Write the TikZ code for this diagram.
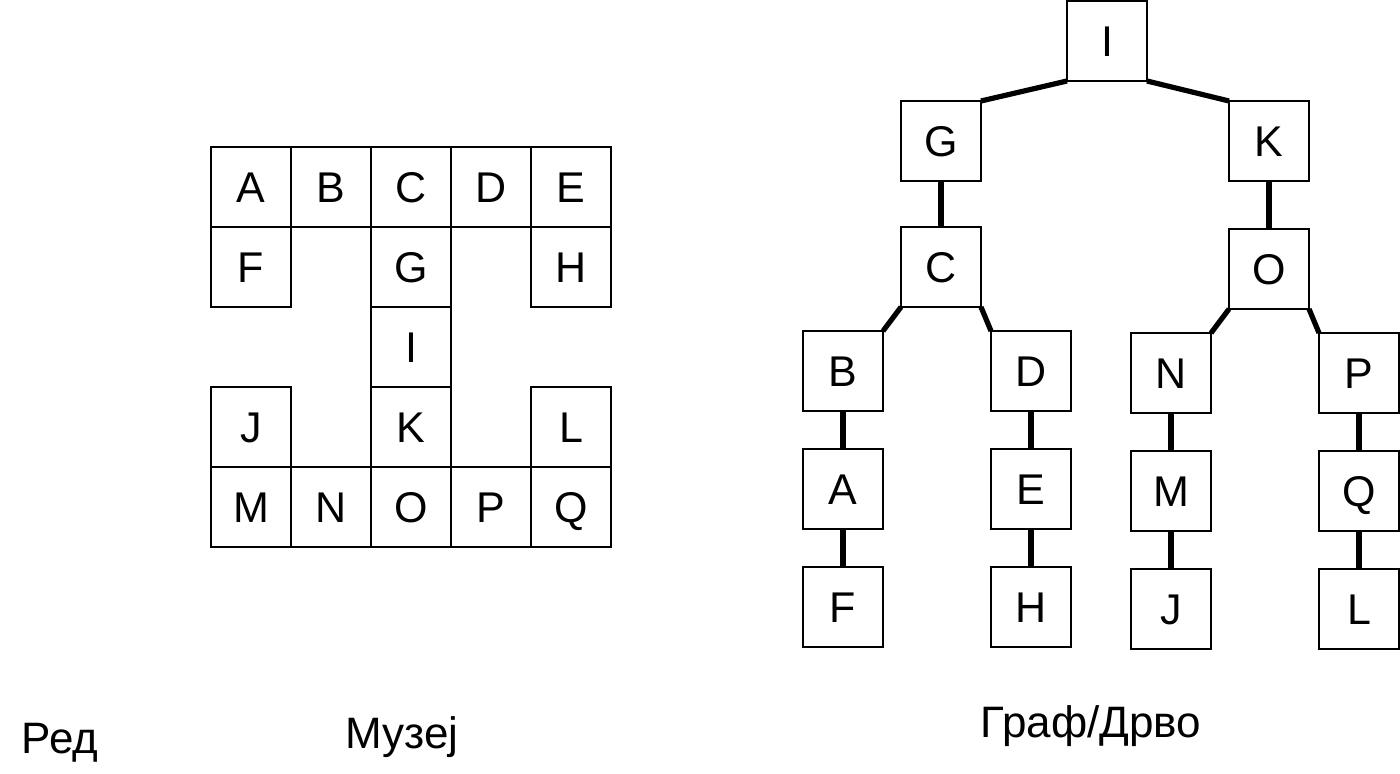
\documentclass[tikz,border=0pt]{standalone}
\usepackage{fontspec}
\setmainfont{Liberation Sans}
\usetikzlibrary{positioning}
\begin{document}
\begin{tikzpicture}[x=0.5pt, y=-0.5pt, node distance={19pt},
  cell/.style = {draw, line width=1pt, minimum size=40pt, inner sep=0pt, outer sep=0pt,
    text height=15.4pt, text depth=0pt, font=\fontsize{21.5}{25}\selectfont},
  link/.style = {line width=2.6pt},
  caption/.style = {anchor=base, font=\fontsize{22}{26}\selectfont}]
\useasboundingbox (0,0) rectangle (1400,774);
% museum
\foreach \name/\col/\row in {A/0/0, B/1/0, C/2/0, D/3/0, E/4/0, F/0/1, G/2/1, H/4/1, I/2/2,
    J/0/3, K/2/3, L/4/3, M/0/4, N/1/4, O/2/4, P/3/4, Q/4/4}
  \node[cell] (m\name) at (251+80*\col, 187+80*\row) {\name};
% tree
\node[cell] (I) at (1107,41) {I};
\node[cell] (G) at (941,141) {G};
\node[cell] (K) at (1269,141) {K};
\node[cell] (C) at (941,267) {C};
\node[cell] (O) at (1269,269) {O};
\node[cell] (B) at (843,371) {B};
\node[cell] (D) at (1031,371) {D};
\node[cell] (N) at (1171,373) {N};
\node[cell] (P) at (1359,373) {P};
\node[cell] (A) [below=of B] {A};
\node[cell] (F) [below=of A] {F};
\node[cell] (E) [below=of D] {E};
\node[cell] (H) [below=of E] {H};
\node[cell] (M) [below=of N] {M};
\node[cell] (J) [below=of M] {J};
\node[cell] (Q) [below=of P] {Q};
\node[cell] (L) [below=of Q] {L};
\draw[link] (I.south west) -- (G.north east);
\draw[link] (I.south east) -- (K.north west);
\draw[link] (G) -- (C);
\draw[link] (K) -- (O);
\draw[link] (C.south west) -- (B.north east);
\draw[link] (C.south east) -- (D.north west);
\draw[link] (O.south west) -- (N.north east);
\draw[link] (O.south east) -- (P.north west);
\foreach \a/\b in {B/A, A/F, D/E, E/H, N/M, M/J, P/Q, Q/L}
  \draw[link] (\a) -- (\b);
% captions
\node[caption] (red) at (60,753) {Ред};
\node[caption] (muzej) at (402,748) {Музеј};
\node[caption] (graf) at (1091,737) {Граф/Дрво};
\end{tikzpicture}
\end{document}
